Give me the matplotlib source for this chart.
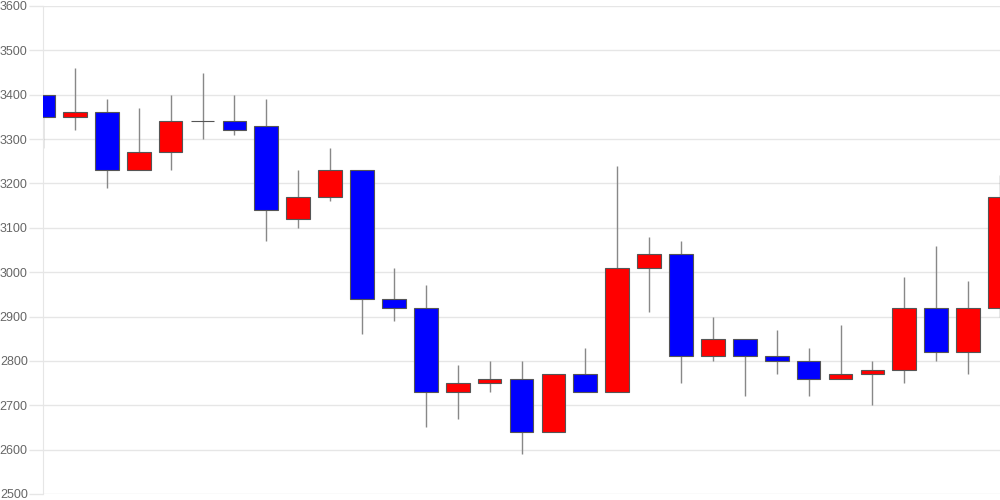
import numpy as np
import matplotlib
matplotlib.use('Agg')
import matplotlib.pyplot as plt

plt.rcParams['font.family'] = ['Liberation Sans', 'DejaVu Sans']

# daily candles (open, close, high, low)
opens  = [3400, 3350, 3360, 3230, 3270, 3340, 3340, 3330, 3120, 3170,
          3230, 2940, 2920, 2730, 2750, 2760, 2640, 2770, 2730, 3010,
          3040, 2810, 2850, 2810, 2800, 2760, 2770, 2780, 2920, 2820, 2920]
closes = [3350, 3360, 3230, 3270, 3340, 3340, 3320, 3140, 3170, 3230,
          2940, 2920, 2730, 2750, 2760, 2640, 2770, 2730, 3010, 3040,
          2810, 2850, 2810, 2800, 2760, 2770, 2780, 2920, 2820, 2920, 3170]
highs  = [3400, 3460, 3390, 3370, 3400, 3450, 3400, 3390, 3230, 3280,
          3230, 3010, 2970, 2790, 2800, 2800, 2770, 2830, 3240, 3080,
          3070, 2900, 2850, 2870, 2830, 2880, 2800, 2990, 3060, 2980, 3220]
lows   = [3280, 3320, 3190, 3230, 3230, 3300, 3310, 3070, 3100, 3160,
          2860, 2890, 2650, 2670, 2730, 2590, 2640, 2730, 2730, 2910,
          2750, 2800, 2720, 2770, 2720, 2760, 2700, 2750, 2800, 2770, 2900]
yticks = [2500, 2600, 2700, 2800, 2900, 3000, 3100, 3200, 3300, 3400, 3500, 3600]

o = np.array(opens); c = np.array(closes)
x = np.arange(len(opens))
colors = np.where(c > o, '#ff0000', '#0000ff')

fig = plt.figure(figsize=(10, 5), dpi=100)
ax = fig.add_axes([0.043, 0.012, 0.957, 0.976])

ax.vlines(x, lows, highs, color='#888888', lw=1, zorder=2)
ax.bar(x, c - o, bottom=o, width=0.74, color=colors,
       edgecolor='#555555', linewidth=0.8, zorder=3)

ax.set_xlim(0, len(opens) - 1)
ax.set_ylim(2500, 3600)
ax.set_yticks(yticks)
ax.set_xticks([])
ax.grid(axis='y', color='#e6e6e6', lw=1, zorder=0)
ax.tick_params(axis='y', length=10, color='#e6e6e6', width=1, pad=1,
               labelsize=9, labelcolor='#666666')
for s in ['top', 'right', 'bottom']:
    ax.spines[s].set_visible(False)
ax.spines['left'].set_color('#e6e6e6')
ax.set_axisbelow(True)

plt.savefig('out.png', facecolor='white')
